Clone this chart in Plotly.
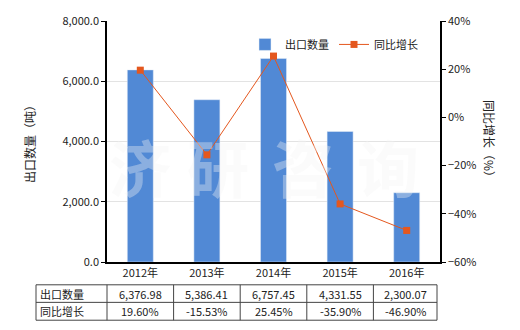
import plotly.graph_objects as go

years = ["2012年", "2013年", "2014年", "2015年", "2016年"]
export_qty = [6376.98, 5386.41, 6757.45, 4331.55, 2300.07]
yoy = [19.60, -15.53, 25.45, -35.90, -46.90]
qty_labels = ["6,376.98", "5,386.41", "6,757.45", "4,331.55", "2,300.07"]
yoy_labels = ["19.60%", "-15.53%", "25.45%", "-35.90%", "-46.90%"]
row_names = ["出口数量", "同比增长"]
watermark = ["济", "研", "咨", "询"]

FONT = "Noto Sans CJK SC"
bar_color = "#5189D5"
line_color = "#E4571E"

L, R, T, B = 107, 440, 19, 262
PW, PH = R - L, B - T


def px(xpix):
    return (xpix - L) / PW


def py(ypix):
    return (B - ypix) / PH


def note(text, x, y, size=11, xanchor="center", angle=0, color="#222", weight="normal"):
    return dict(text=text, x=px(x), y=py(y), xref="paper", yref="paper",
                xanchor=xanchor, yanchor="middle", showarrow=False, textangle=angle,
                font=dict(size=size, color=color, weight=weight))


fig = go.Figure()
fig.add_trace(go.Bar(x=list(range(5)), y=export_qty, name="出口数量",
                     marker_color=bar_color, width=0.39, yaxis="y"))
fig.add_trace(go.Scatter(x=list(range(5)), y=yoy, name="同比增长", yaxis="y2",
                         mode="lines+markers",
                         line=dict(color=line_color, width=1),
                         marker=dict(symbol="square", size=7, color=line_color)))

fig.update_layout(
    width=520, height=330,
    margin=dict(l=L, r=520 - R, t=T, b=330 - B),
    paper_bgcolor="white", plot_bgcolor="white",
    font=dict(family=FONT, size=11, color="#222"),
    showlegend=True,
    legend=dict(orientation="h", x=px(245), y=py(28), xanchor="left", yanchor="top",
                bgcolor="rgba(0,0,0,0)", font=dict(size=11), itemwidth=30,
                tracegroupgap=0),
    xaxis=dict(tickmode="array", tickvals=list(range(5)), ticktext=years,
               range=[-0.5, 4.5], showline=True, linecolor="black", linewidth=1.5,
               ticks="", showgrid=False, zeroline=False,
               tickfont=dict(size=11)),
    yaxis=dict(range=[0, 8000], dtick=2000, tickformat=",.1f",
               showline=True, linecolor="black", linewidth=1.5,
               ticks="outside", ticklen=4, tickcolor="black",
               gridcolor="#e3e3e3", zeroline=False, tickfont=dict(size=11)),
    yaxis2=dict(range=[-60, 40], dtick=20, ticksuffix="%", overlaying="y",
                side="right", showline=True, linecolor="black", linewidth=1.5,
                ticks="outside", ticklen=4, tickcolor="black",
                showgrid=False, zeroline=False, tickfont=dict(size=11)),
)

annotations = []
# axis titles
annotations.append(note("出口数量（吨）", 29, 140, size=12, angle=-90))
annotations.append(note("同比增长（%）", 490, 140, size=12, angle=90))
# watermark
for ch, xc in zip(watermark, [140, 218, 303, 388]):
    annotations.append(note(ch, xc, 165, size=62, color="rgba(245,245,245,0.36)",
                            weight="bold"))

# table (paper coordinates)
row_tops = [285, 302.7, 320.7]
col_edges = [36, 107, 173.6, 240.2, 306.8, 373.4, 437]
shapes = []
for yy in row_tops:
    shapes.append(dict(type="line", xref="paper", yref="paper", x0=px(col_edges[0]),
                       x1=px(col_edges[-1]), y0=py(yy), y1=py(yy),
                       line=dict(color="#444", width=1)))
for xv in col_edges:
    shapes.append(dict(type="line", xref="paper", yref="paper", x0=px(xv), x1=px(xv),
                       y0=py(row_tops[0]), y1=py(row_tops[2]),
                       line=dict(color="#444", width=1)))
rows = [qty_labels, yoy_labels]
for r in range(2):
    yc = (row_tops[r] + row_tops[r + 1]) / 2
    annotations.append(note(row_names[r], 38, yc, xanchor="left"))
    for i in range(5):
        xc = (col_edges[i + 1] + col_edges[i + 2]) / 2
        annotations.append(note(rows[r][i], xc, yc))

fig.update_layout(annotations=annotations, shapes=shapes)
fig.write_html("out.html")
